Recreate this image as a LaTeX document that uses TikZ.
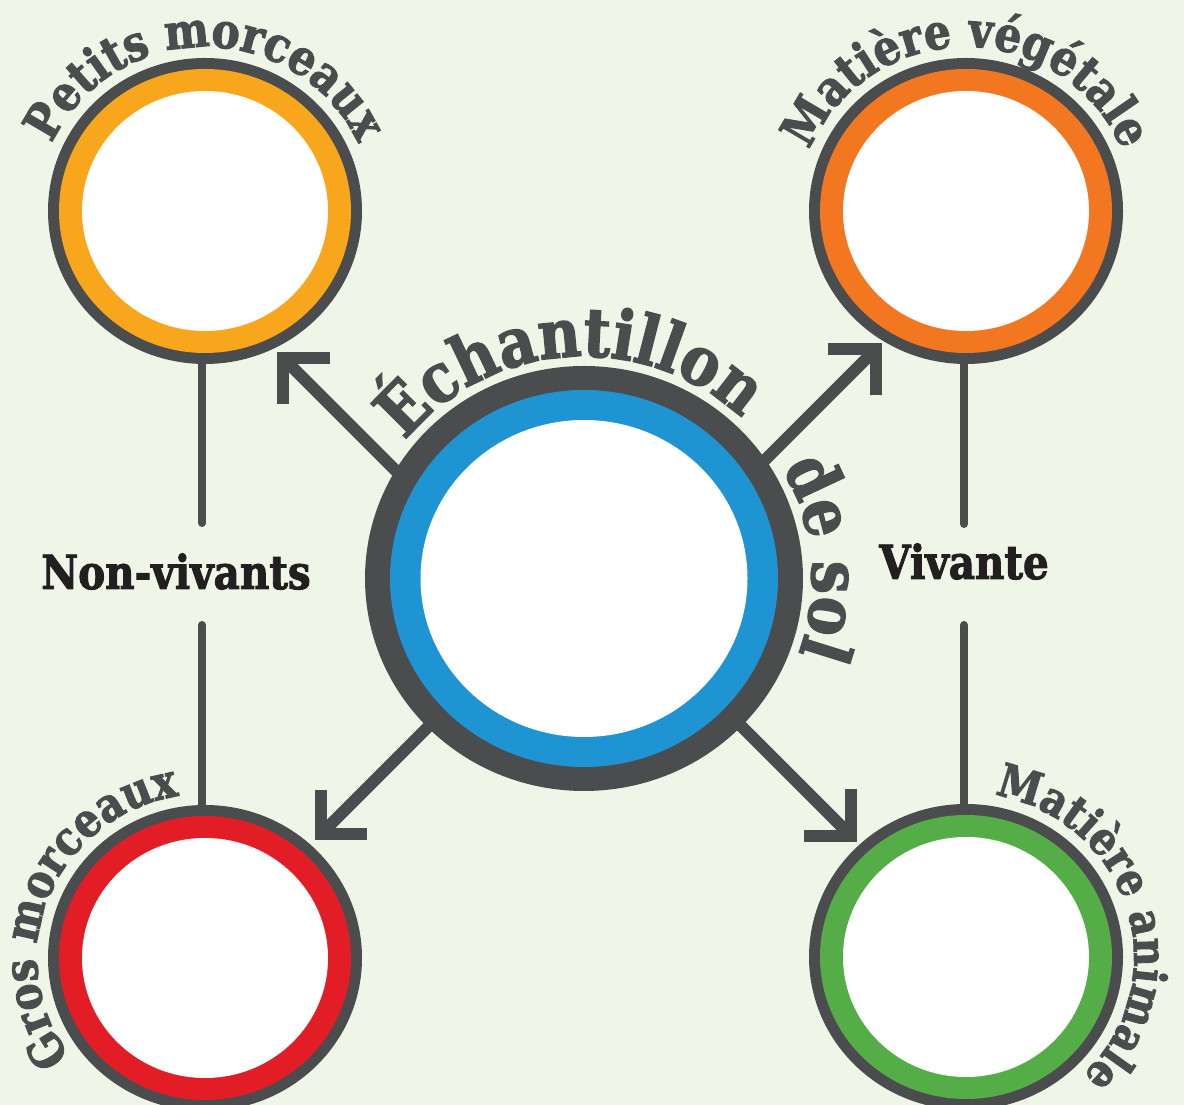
\documentclass[tikz,border=0pt]{standalone}
\usepackage{fontspec}
\newfontfamily\slab{DejaVu Serif}[FakeStretch=0.86, BoldFeatures={FakeBold=2}]
\usetikzlibrary{decorations.text,shapes.geometric}
\definecolor{bgc}{HTML}{EFF6E8}
\definecolor{ringgray}{HTML}{4B4C4E}
\definecolor{ink}{HTML}{231F20}
\definecolor{cyellow}{HTML}{F8A61C}
\definecolor{corange}{HTML}{F37721}
\definecolor{cred}{HTML}{E31D25}
\definecolor{cgreen}{HTML}{55AD47}
\definecolor{cblue}{HTML}{1E94D3}
\begin{document}
\begin{tikzpicture}[x=1pt,y=1pt,
  outerdisk/.style={ellipse, fill=ringgray, minimum width=314pt, minimum height=306pt, inner sep=0pt, outer sep=0pt},
  centerdisk/.style={ellipse, fill=ringgray, minimum width=438pt, minimum height=425pt, inner sep=0pt, outer sep=0pt},
  conn/.style={draw=ringgray, line width=8pt, line cap=round},
  arrowline/.style={draw=ringgray, line width=12pt, line join=miter, line cap=butt},
  lbl/.style={font=\slab\bfseries\fontsize{47pt}{47pt}\selectfont, text=ink, inner sep=0pt},
  curvsmall/.style 2 args={decorate, decoration={text along path, text align=center, text color=ringgray,
     text={|\slab\bfseries\fontsize{#1}{#1}\selectfont|#2}}},
  curvbig/.style={decorate, decoration={text along path, text align=center, text color=ringgray,
     text={|\slab\bfseries\fontsize{68pt}{68pt}\selectfont|#1}}}
]
\fill[bgc] (0,0) rectangle (1184,1105);
\useasboundingbox (0,0) rectangle (1184,1105);

% coordinates
\coordinate (ctl) at (205,894);
\coordinate (ctr) at (966,894);
\coordinate (cbl) at (205,147);
\coordinate (cbr) at (966,148);
\coordinate (cc) at (584,526.5);

% labels
\node[lbl, anchor=base] (nv) at (176,516) {Non-vivants};
\node[lbl, anchor=base] (vv) at (964,526) {Vivante};
\coordinate (nvtop) at (202,582);
\coordinate (nvbot) at (202,480);
\coordinate (vvtop) at (964,581);
\coordinate (vvbot) at (964,480);

% vertical connectors
\draw[conn] (nvtop |- ctl) -- (nvtop);
\draw[conn] (nvbot) -- (nvbot |- cbl);
\draw[conn] (vvtop |- ctr) -- (vvtop);
\draw[conn] (vvbot) -- (vvbot |- cbr);

% arrows
\coordinate (sTL) at (410,620);  \coordinate (tTL) at (283,747);
\coordinate (sTR) at (760,640);  \coordinate (tTR) at (876,756);
\coordinate (sBL) at (440,390);  \coordinate (tBL) at (321,271);
\coordinate (sBR) at (735,385);  \coordinate (tBR) at (851,269);
\draw[arrowline] (sTL) -- (tTL);
\draw[arrowline] ([xshift=47pt]tTL) -- (tTL) -- ([yshift=-46pt]tTL);
\draw[arrowline] (sTR) -- (tTR);
\draw[arrowline] ([xshift=-48pt]tTR) -- (tTR) -- ([yshift=-46pt]tTR);
\draw[arrowline] (sBL) -- (tBL);
\draw[arrowline] ([xshift=46pt]tBL) -- (tBL) -- ([yshift=44pt]tBL);
\draw[arrowline] (sBR) -- (tBR);
\draw[arrowline] ([xshift=-47pt]tBR) -- (tBR) -- ([yshift=47pt]tBR);

% outer circles
\node[outerdisk] (tl) at (ctl) {};
\fill[cyellow] (tl.center) ellipse[x radius=146pt, y radius=142pt];
\fill[white] (tl.center) ellipse[x radius=123pt, y radius=120pt];

\node[outerdisk] (tr) at (ctr) {};
\fill[corange] (tr.center) ellipse[x radius=146pt, y radius=142pt];
\fill[white] (tr.center) ellipse[x radius=123pt, y radius=120pt];

\node[outerdisk] (bl) at (cbl) {};
\fill[cred] (bl.center) ellipse[x radius=146pt, y radius=142pt];
\fill[white] (bl.center) ellipse[x radius=123pt, y radius=120pt];

\node[outerdisk] (br) at (cbr) {};
\fill[cgreen] (br.center) ellipse[x radius=146pt, y radius=142pt];
\fill[white] (br.center) ellipse[x radius=123pt, y radius=120pt];

% center circle
\node[centerdisk] (c) at (cc) {};
\fill[cblue] (c.center) ellipse[x radius=194pt, y radius=188.5pt];
\fill[white] (c.center) ellipse[x radius=163.5pt, y radius=158.5pt];

% curved texts
\path[curvsmall={49pt}{Petits morceaux}] (tl.center) ++(178:168pt and 164pt) arc[start angle=178, end angle=2, x radius=168pt, y radius=164pt];
\path[curvsmall={49pt}{Matière végétale}] (tr.center) ++(178:168pt and 164pt) arc[start angle=178, end angle=2, x radius=168pt, y radius=164pt];
\path[curvsmall={47pt}{Gros morceaux}] (bl.center) ++(246:168pt and 164pt) arc[start angle=246, end angle=70, x radius=168pt, y radius=164pt];
\path[curvsmall={46pt}{Matière animale}] (br.center) ++(105:168pt and 164pt) arc[start angle=105, end angle=-71, x radius=168pt, y radius=164pt];
\path[curvbig={Échantillon}] (c.center) ++(170:228pt and 222pt) arc[start angle=170, end angle=18, x radius=228pt, y radius=222pt];
\path[curvbig={de sol}] (c.center) ++(45:228pt and 222pt) arc[start angle=45, end angle=-35, x radius=228pt, y radius=222pt];
\end{tikzpicture}
\end{document}
